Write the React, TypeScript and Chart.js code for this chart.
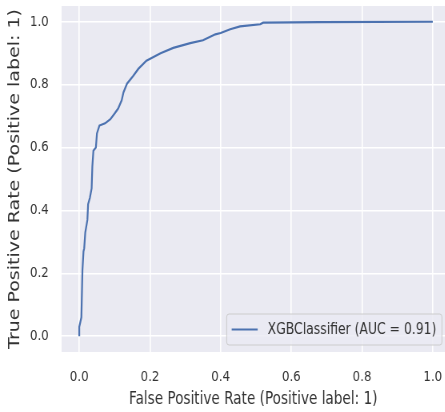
import React, { useEffect, useRef } from "react";
import { Chart, registerables } from "chart.js";

Chart.register(...registerables);

// ROC curve points
const fprValues = [
  0, 0, 0.003, 0.006, 0.007, 0.009, 0.012, 0.014, 0.017, 0.02, 0.023, 0.025,
  0.03, 0.035, 0.037, 0.04, 0.047, 0.05, 0.057, 0.073, 0.088, 0.1, 0.11, 0.12,
  0.125, 0.135, 0.153, 0.167, 0.19, 0.23, 0.266, 0.314, 0.35, 0.385, 0.4,
  0.427, 0.455, 0.512, 0.52, 0.68, 1.0,
];
const tprValues = [
  0, 0.03, 0.045, 0.06, 0.11, 0.21, 0.27, 0.28, 0.33, 0.35, 0.37, 0.42, 0.44,
  0.47, 0.54, 0.59, 0.6, 0.645, 0.67, 0.677, 0.69, 0.708, 0.724, 0.75, 0.775,
  0.803, 0.828, 0.85, 0.876, 0.9, 0.917, 0.932, 0.941, 0.96, 0.964, 0.976,
  0.985, 0.992, 0.997, 0.999, 1.0,
];
const xTickValues = [0, 0.2, 0.4, 0.6, 0.8, 1.0];
const yTickValues = [0, 0.2, 0.4, 0.6, 0.8, 1.0];
const seriesLabel = "XGBClassifier (AUC = 0.91)";
const xTitle = "False Positive Rate (Positive label: 1)";
const yTitle = "True Positive Rate (Positive label: 1)";

const FONT = "'DejaVu Sans', 'Noto Sans', sans-serif";
const SX = 0.8; // horizontal squeeze of the reference picture
const W = 445;
const H = 412;
const IW = Math.round(W / SX);
const LINE_COLOR = "#4C72B0";
const BG = "#EAEAF2";
const TEXT = "#333333";

const bgPlugin = {
  id: "plotBg",
  beforeDraw(chart: any) {
    const { ctx, chartArea: a } = chart;
    ctx.save();
    ctx.fillStyle = BG;
    ctx.fillRect(a.left, a.top, a.right - a.left, a.bottom - a.top);
    ctx.restore();
  },
};

const legendPlugin = {
  id: "boxLegend",
  afterDraw(chart: any) {
    const { ctx, chartArea: a } = chart;
    const label = chart.data.datasets[0].label as string;
    ctx.save();
    ctx.font = `15.5px ${FONT}`;
    const tw = ctx.measureText(label).width;
    const padL = 6.25, lineLen = 32.5, gap = 12.5, padR = 7;
    const bw = padL + lineLen + gap + tw + padR;
    const bh = 31;
    const right = a.right - 3.5;
    const bottom = a.bottom - 7;
    const left = right - bw;
    const top = bottom - bh;
    const r = 3;
    ctx.beginPath();
    ctx.moveTo(left + r, top);
    ctx.lineTo(right - r, top);
    ctx.arcTo(right, top, right, top + r, r);
    ctx.lineTo(right, bottom - r);
    ctx.arcTo(right, bottom, right - r, bottom, r);
    ctx.lineTo(left + r, bottom);
    ctx.arcTo(left, bottom, left, bottom - r, r);
    ctx.lineTo(left, top + r);
    ctx.arcTo(left, top, left + r, top, r);
    ctx.closePath();
    ctx.fillStyle = "rgba(234,234,242,0.8)";
    ctx.fill();
    ctx.strokeStyle = "#cccccc";
    ctx.lineWidth = 1;
    ctx.stroke();
    const cy = top + bh / 2;
    ctx.beginPath();
    ctx.moveTo(left + padL, cy);
    ctx.lineTo(left + padL + lineLen, cy);
    ctx.strokeStyle = LINE_COLOR;
    ctx.lineWidth = 2.2;
    ctx.stroke();
    ctx.fillStyle = TEXT;
    ctx.textBaseline = "middle";
    ctx.textAlign = "left";
    ctx.fillText(label, left + padL + lineLen + gap, cy + 0.5);
    ctx.restore();
  },
};

export default function App() {
  const ref = useRef<HTMLCanvasElement>(null);

  useEffect(() => {
    if (!ref.current) return;
    const points = fprValues.map((x, i) => ({ x, y: tprValues[i] }));
    const chart = new Chart(ref.current, {
      type: "line",
      data: {
        datasets: [
          {
            label: seriesLabel,
            data: points,
            borderColor: LINE_COLOR,
            borderWidth: 2.2,
            pointRadius: 0,
            tension: 0,
            fill: false,
          },
        ],
      },
      options: {
        animation: false,
        responsive: false,
        maintainAspectRatio: false,
        devicePixelRatio: 1,
        layout: { padding: { top: 6, right: 0, left: 0, bottom: 0 } },
        plugins: {
          legend: { display: false },
          tooltip: { enabled: false },
        },
        scales: {
          x: {
            type: "linear",
            min: -0.05,
            max: 1.034,
            afterBuildTicks: (s: any) => {
              s.ticks = xTickValues.map((v) => ({ value: v }));
            },
            afterFit: (s: any) => {
              s.height = 60;
              s.paddingLeft = 0;
              s.paddingRight = 0;
            },
            grid: { color: "#ffffff", lineWidth: 1.6, drawTicks: false },
            border: { display: false },
            ticks: {
              padding: 16,
              color: TEXT,
              font: { family: FONT, size: 14.75 },
              maxRotation: 0,
              autoSkip: false,
              callback: (v: any) => Number(v).toFixed(1),
            },
            title: {
              display: true,
              text: xTitle,
              color: TEXT,
              font: { family: FONT, size: 17 },
              padding: { top: 0, bottom: 2 },
            },
          },
          y: {
            type: "linear",
            min: -0.05,
            max: 1.05,
            afterBuildTicks: (s: any) => {
              s.ticks = yTickValues.map((v) => ({ value: v }));
            },
            afterFit: (s: any) => {
              s.width = 77;
              s.paddingTop = 0;
              s.paddingBottom = 0;
            },
            grid: { color: "#ffffff", lineWidth: 1.6, drawTicks: false },
            border: { display: false },
            ticks: {
              padding: 16,
              color: TEXT,
              font: { family: FONT, size: 14.75 },
              autoSkip: false,
              callback: (v: any) => Number(v).toFixed(1),
            },
            title: {
              display: true,
              text: yTitle,
              color: TEXT,
              font: { family: FONT, size: 19 },
              padding: { top: 8, bottom: 0 },
            },
          },
        },
      },
      plugins: [bgPlugin, legendPlugin],
    });
    return () => chart.destroy();
  }, []);

  return (
    <div
      style={{
        position: "fixed",
        left: 0,
        top: 0,
        width: W,
        height: H,
        overflow: "hidden",
        background: "#ffffff",
      }}
    >
      <canvas
        ref={ref}
        width={IW}
        height={H}
        style={{
          display: "block",
          width: IW,
          height: H,
          transform: `scaleX(${SX})`,
          transformOrigin: "0 0",
        }}
      />
    </div>
  );
}
